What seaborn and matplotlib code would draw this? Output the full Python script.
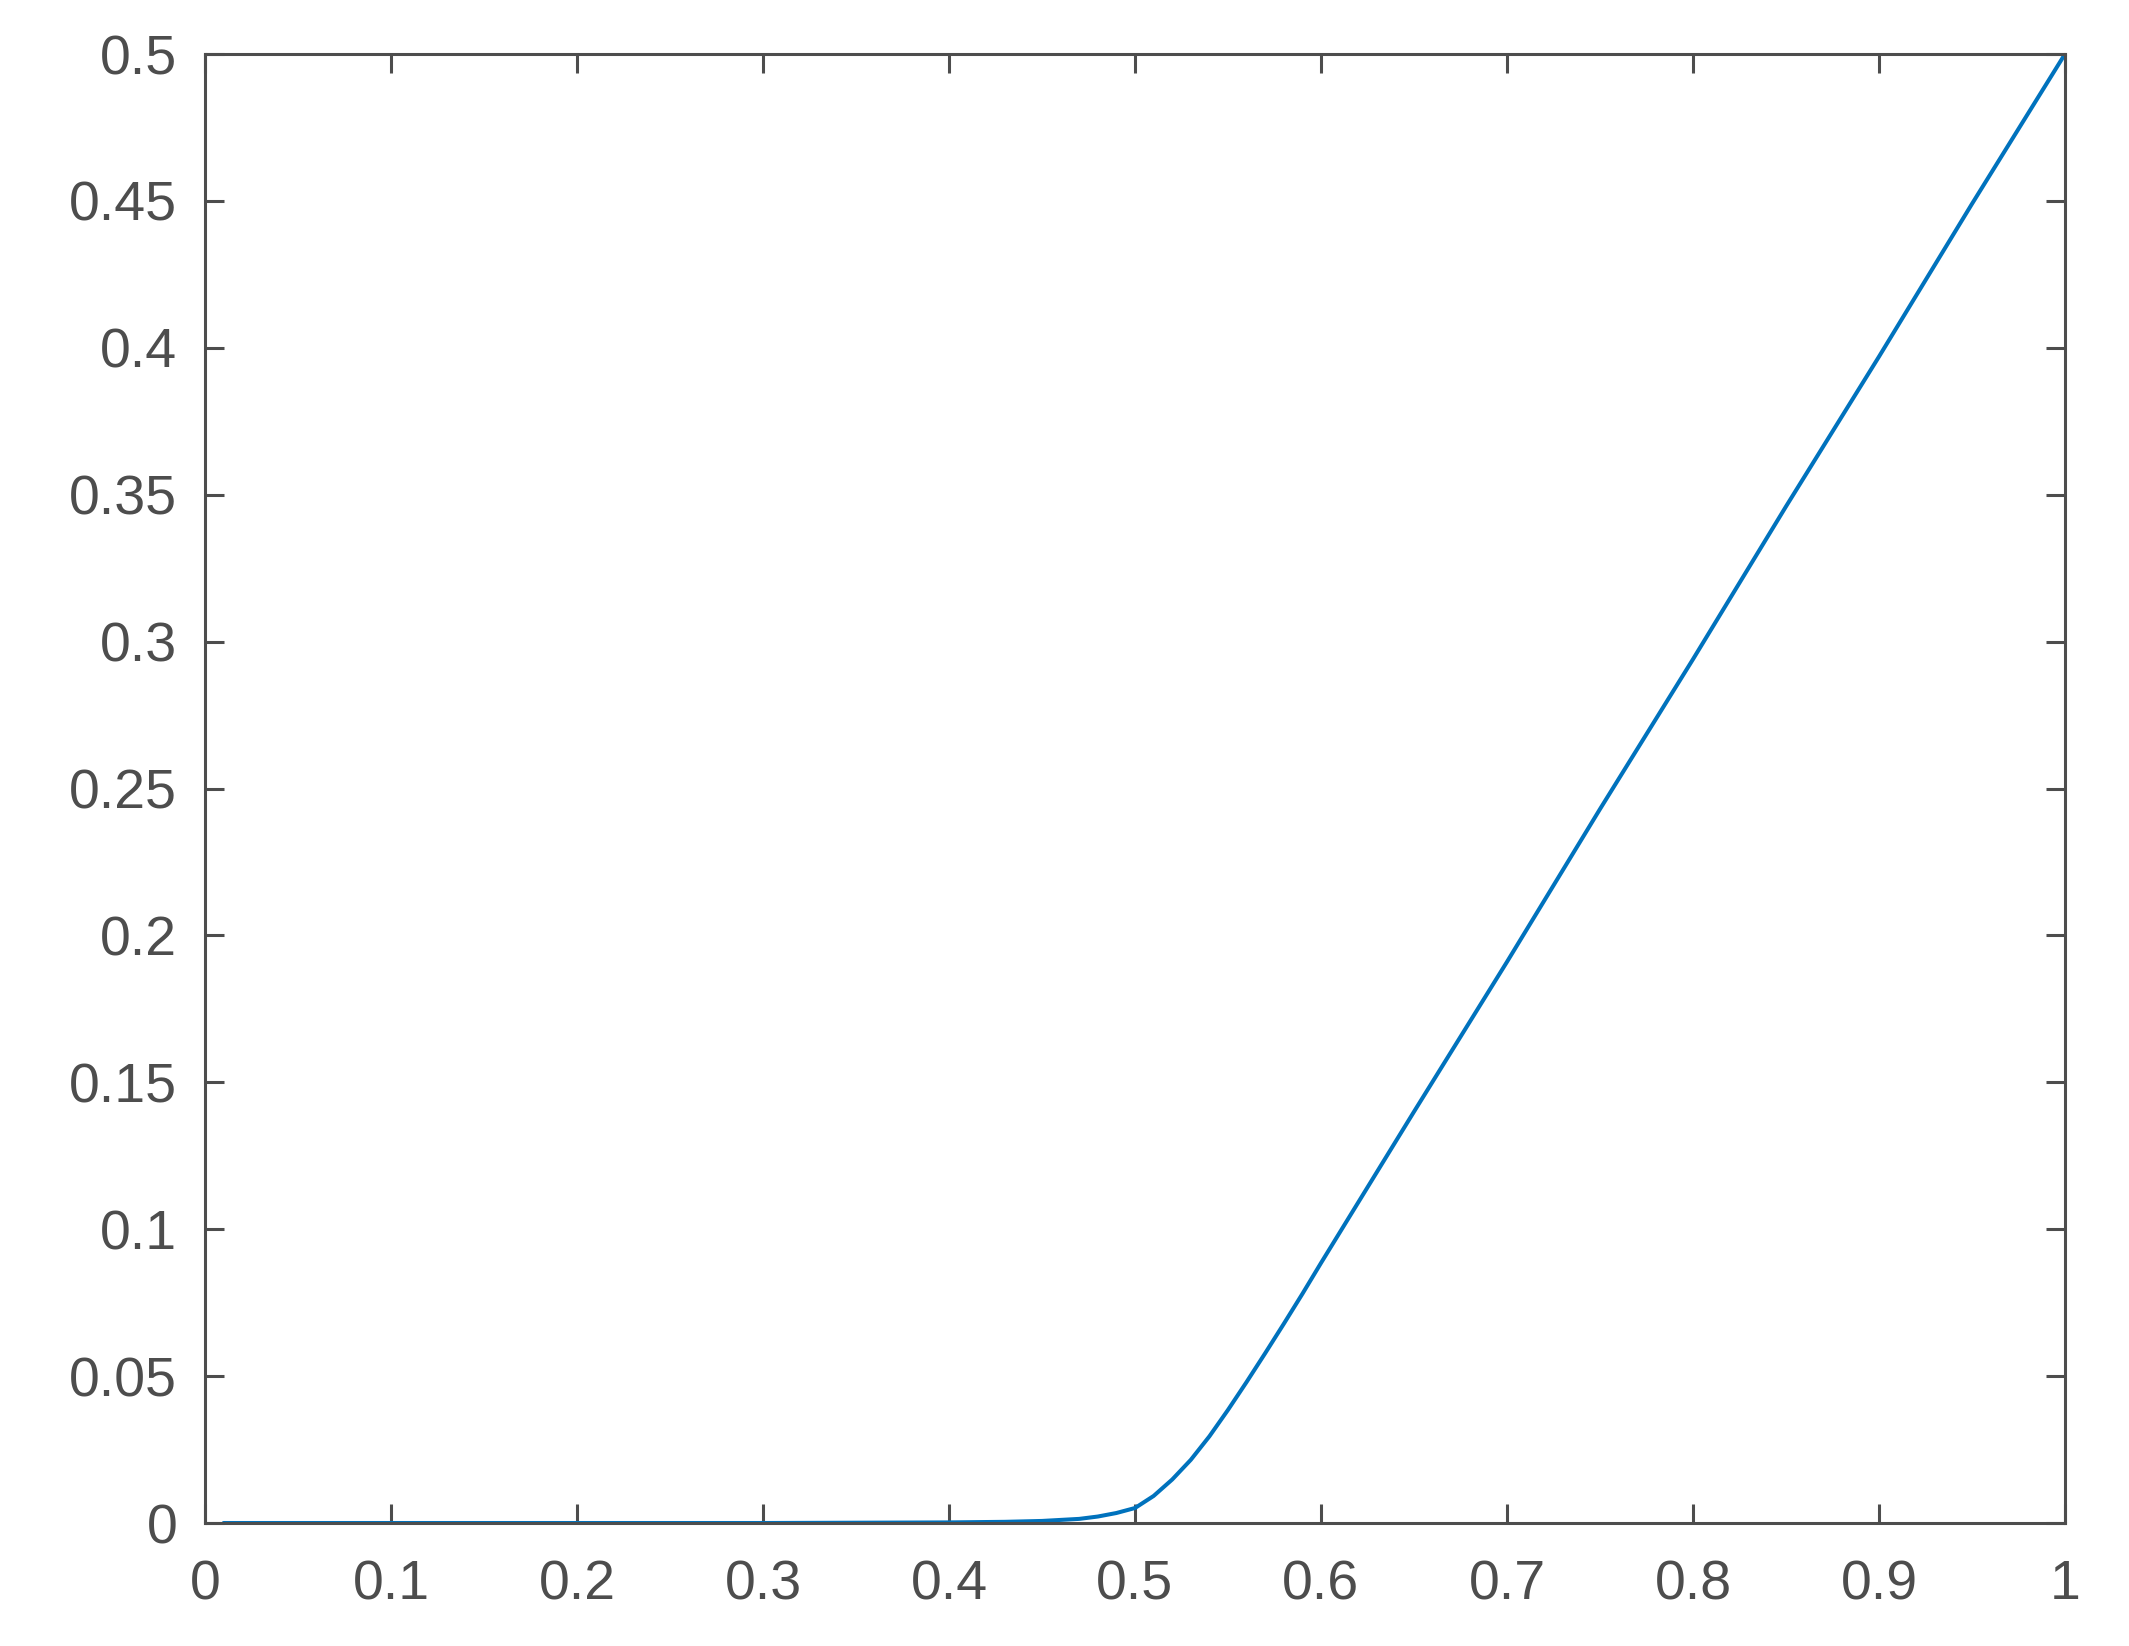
import numpy as np
import pandas as pd
import matplotlib
matplotlib.use("Agg")
import matplotlib.pyplot as plt
import seaborn as sns

# values
x_vals = [0.01, 0.1, 0.2, 0.3, 0.35, 0.4, 0.43, 0.45, 0.47, 0.48, 0.49, 0.5,
          0.51, 0.52, 0.53, 0.54, 0.55, 0.56, 0.57, 0.58, 0.59, 0.6, 0.65,
          0.7, 0.75, 0.8, 0.85, 0.9, 0.95, 1.0]
y_vals = [0.0, 0.0, 0.0, 0.0, 0.0001, 0.0002, 0.0004, 0.0007, 0.0014, 0.0022,
          0.0034, 0.0051, 0.0092, 0.0148, 0.0215, 0.0295, 0.0385, 0.048,
          0.0578, 0.0678, 0.078, 0.0885, 0.140, 0.191, 0.243, 0.294, 0.346,
          0.397, 0.449, 0.5]

x_ticks = [0, 0.1, 0.2, 0.3, 0.4, 0.5, 0.6, 0.7, 0.8, 0.9, 1]
x_tick_labels = ["0", "0.1", "0.2", "0.3", "0.4", "0.5", "0.6", "0.7", "0.8", "0.9", "1"]
y_ticks = [0, 0.05, 0.1, 0.15, 0.2, 0.25, 0.3, 0.35, 0.4, 0.45, 0.5]
y_tick_labels = ["0", "0.05", "0.1", "0.15", "0.2", "0.25", "0.3", "0.35", "0.4", "0.45", "0.5"]

df = pd.DataFrame({"x": x_vals, "y": y_vals})

sns.set_style("white")
plt.rcParams["font.family"] = ["Liberation Sans", "DejaVu Sans"]

axis_color = "#4d4d4d"

fig = plt.figure(figsize=(2129 / 200, 1646 / 200), dpi=200)
ax = fig.add_axes([205 / 2129, 1 - 1523 / 1646, (2065 - 205) / 2129, (1523 - 54) / 1646])

sns.lineplot(data=df, x="x", y="y", ax=ax, color="#0072BD", linewidth=1.45)

ax.set_xlim(0, 1)
ax.set_ylim(0, 0.5)
ax.set_xticks(x_ticks)
ax.set_xticklabels(x_tick_labels)
ax.set_yticks(y_ticks)
ax.set_yticklabels(y_tick_labels)
ax.set_xlabel("")
ax.set_ylabel("")

for side in ["left", "right", "top", "bottom"]:
    ax.spines[side].set_visible(True)
    ax.spines[side].set_color(axis_color)
    ax.spines[side].set_linewidth(1.1)

ax.tick_params(axis="both", which="both", direction="in", length=6.8, width=1.1,
               color=axis_color, labelcolor=axis_color, labelsize=20,
               top=True, right=True, bottom=True, left=True)
ax.tick_params(axis="x", pad=13)
ax.tick_params(axis="y", pad=10)

fig.savefig("out.png", dpi=200, facecolor="white")
